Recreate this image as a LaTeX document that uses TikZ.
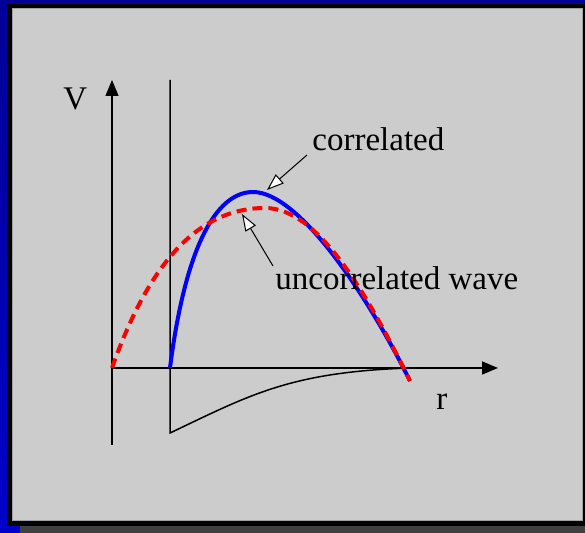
\documentclass[tikz,border=0pt]{standalone}
\usepackage{fontspec}
\setmainfont{Liberation Serif}
\usetikzlibrary{positioning, arrows.meta}
\definecolor{darkblue}{HTML}{000099}
\definecolor{brightblue}{HTML}{0000CC}
\definecolor{shadowgray}{HTML}{404040}
\definecolor{panelgray}{HTML}{CCCCCC}
\definecolor{panelline}{HTML}{A0A0A0}
\definecolor{curveblue}{HTML}{0000FF}
\definecolor{curvered}{HTML}{FF0000}

\begin{document}
\begin{tikzpicture}[x=0.5pt, y=-0.5pt, >=Stealth,
    axis/.style={line width=0.75pt, -{Triangle[length=8pt,width=6.5pt]}},
    pointer/.style={line width=0.5pt, -{Triangle[fill=white,length=8.5pt,width=6pt]}},
    lbl/.style={font=\fontsize{16.5}{20}\selectfont, inner sep=0pt, anchor=base west},
    wave/.style={line width=2pt}]
  \useasboundingbox (0,0) rectangle (585,533);
  % frame and panel
  \fill[darkblue] (0,0) rectangle (585,533);
  \shade[top color=darkblue, bottom color=brightblue] (0,4) rectangle (7,526);
  \fill[brightblue] (0,526) rectangle (20,533);
  \fill[shadowgray] (20,526) rectangle (585,533);
  \fill[black] (7,4) rectangle (585,526);
  \filldraw[fill=panelgray, draw=panelline, line width=0.5pt] (12,9) rectangle (582,521);

  \coordinate (orig)    at (112,368);
  \coordinate (vtop)    at (112,80);
  \coordinate (vbot)    at (112,445);
  \coordinate (rend)    at (498,368);
  \coordinate (wall)    at (170,368);
  \coordinate (walltop) at (170,80);
  \coordinate (wallbot) at (170,433);
  \coordinate (rcross)  at (410,368);
  \coordinate (wend)    at (410,381);

  % axes and potential
  \draw[axis] (vbot) -- (vtop);
  \draw[axis] (orig) -- (rend);
  \draw[line width=0.75pt] (walltop) -- (wallbot)
    .. controls (250,395) and (290,372) .. (rcross);

  % wave functions
  \draw[wave, curveblue] (wall) .. controls (185,250) and (215,192) .. (253,192)
    .. controls (300,192) and (370,300) .. (wend);
  \draw[wave, curvered, dash pattern=on 5pt off 3pt] (orig)
    .. controls (150,260) and (200,208) .. (265,208)
    .. controls (320,208) and (370,300) .. (wend);

  % labels
  \node[lbl] (vlab)   at (63,110)  {V};
  \node[lbl] (rlab)   at (436,410) {r};
  \node[lbl] (corr)   at (312,151) {correlated};
  \node[lbl] (uncorr) at (275,290) {uncorrelated wave};

  \coordinate (ctail) at (307,155);
  \coordinate (ctip)  at (267,190);
  \coordinate (utail) at (273,266);
  \coordinate (utip)  at (242,214);
  \draw[pointer] (ctail) -- (ctip);
  \draw[pointer] (utail) -- (utip);
\end{tikzpicture}
\end{document}
